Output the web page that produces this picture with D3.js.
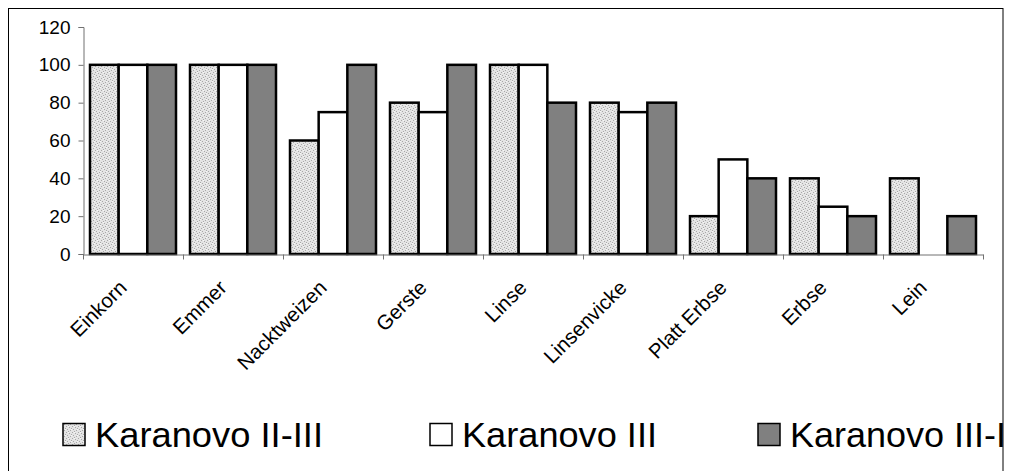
<!DOCTYPE html>
<html><head><meta charset="utf-8">
<script src="https://cdn.jsdelivr.net/npm/d3@7"></script>
<style>body{margin:0;background:#fff}svg{display:block;font-family:"Liberation Sans",Arial,sans-serif}</style>
</head><body><div id="c"></div>
<script>
const categories = ["Einkorn","Emmer","Nacktweizen","Gerste","Linse","Linsenvicke","Platt Erbse","Erbse","Lein"];
const seriesNames = ["Karanovo II-III","Karanovo III","Karanovo III-IV"];
const karanovo2_3 = [100,100,60,80,100,80,20,40,40];
const karanovo3   = [100,100,75,75,100,75,50,25,null];
const karanovo3_4 = [100,100,100,100,80,80,40,20,20];
const yTicks = [0,20,40,60,80,100,120];
const seriesValues = [karanovo2_3, karanovo3, karanovo3_4];

const W=1013,H=471;
const svg=d3.select("#c").append("svg").attr("width",W).attr("height",H);
const defs=svg.append("defs");
const pat=defs.append("pattern").attr("id","dots").attr("width",6).attr("height",6).attr("patternUnits","userSpaceOnUse");
pat.append("rect").attr("width",6).attr("height",6).attr("fill","#e4e4e4");
[[0,0],[3,1],[5,2],[1,3],[4,4],[2,5],[2,0],[5,3]].forEach(([a,b],i)=>
  pat.append("rect").attr("x",a).attr("y",b).attr("width",1).attr("height",1).attr("fill",i<6?"#a8a8a8":"#f8f8f8"));
const fills=["url(#dots)","#ffffff","#808080"];

defs.append("clipPath").attr("id","clip").append("rect").attr("x",0).attr("y",0).attr("width",1003).attr("height",H);

// outer frame
svg.append("rect").attr("x",8.5).attr("y",8.5).attr("width",994.5).attr("height",H+10).attr("fill","none").attr("stroke","#000").attr("stroke-width",1);

const x0=d3.scaleBand().domain(categories).range([83,983]).padding(0);
const x1=d3.scaleBand().domain(d3.range(3)).range([7,93]).padding(0);
const y=d3.scaleLinear().domain([0,120]).range([254,27]);

// y axis
const yAxis=d3.axisLeft(y).tickValues(yTicks).tickSize(5).tickPadding(8);
const gy=svg.append("g").attr("transform","translate(83.5,0)").call(yAxis);
gy.select(".domain").attr("stroke","#707070");
gy.selectAll(".tick line").attr("stroke","#707070");
gy.selectAll(".tick text").attr("font-size",19).attr("fill","#000").attr("font-family","Liberation Sans, Arial, sans-serif");

// bars
const groups=svg.append("g").selectAll("g").data(categories).join("g").attr("transform",d=>`translate(${x0(d)},0)`);
groups.selectAll("rect").data((d,i)=>seriesValues.map((s,k)=>({k,v:s[i]})).filter(o=>o.v!=null))
 .join("rect")
 .attr("x",o=>x1(o.k)).attr("width",x1.bandwidth())
 .attr("y",o=>y(o.v)).attr("height",o=>y(0)-y(o.v))
 .attr("fill",o=>fills[o.k]).attr("stroke","#000").attr("stroke-width",2.5);

// x axis
const xAxis=d3.axisBottom(x0).tickValues([]).tickSizeOuter(0);
const gx=svg.append("g").attr("transform","translate(0,254.5)").call(xAxis);
gx.select(".domain").attr("stroke","#707070");
const bounds=categories.map(c=>x0(c)).concat([983]);
gx.selectAll("line.tk").data(bounds).join("line").attr("class","tk")
  .attr("x1",d=>d+0.5).attr("x2",d=>d+0.5).attr("y1",0).attr("y2",5).attr("stroke","#707070");

// x labels
svg.append("g").selectAll("text").data(categories).join("text")
 .attr("transform",d=>`translate(${x0(d)+x0.bandwidth()/2-5},289) rotate(-45)`)
 .attr("text-anchor","end").attr("font-size",20.5).attr("fill","#000").text(d=>d);

// legend
const legX=[95,462,790], legW=[228,195,240];
const leg=svg.append("g").attr("clip-path","url(#clip)");
seriesNames.forEach((n,k)=>{
  leg.append("rect").attr("x",legX[k]-32).attr("y",423.5).attr("width",22).attr("height",22)
    .attr("fill",fills[k]).attr("stroke","#000").attr("stroke-width",1.5);
  leg.append("text").attr("x",legX[k]).attr("y",447).attr("font-size",35).attr("fill","#000").text(n)
    .attr("textLength",legW[k]).attr("lengthAdjust","spacingAndGlyphs");
});
</script></body></html>
